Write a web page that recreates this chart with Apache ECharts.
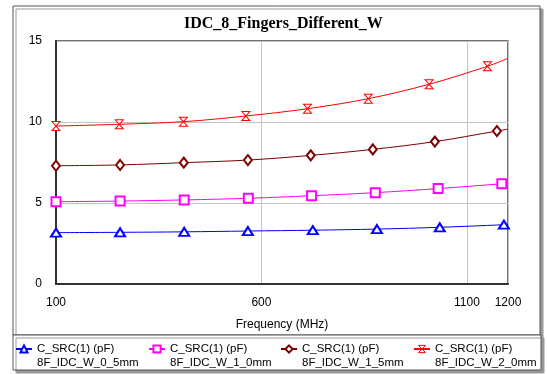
<!DOCTYPE html>
<html>
<head>
<meta charset="utf-8">
<title>IDC_8_Fingers_Different_W</title>
<script src="https://cdn.jsdelivr.net/npm/echarts@6/dist/echarts.min.js"></script>
<style>
	html, body { margin: 0; padding: 0; background: #fff; }
	#chart { width: 547px; height: 374px; }
</style>
</head>
<body>
<div id="chart"></div>
<script>
// values (MHz, pF); last point of each list is the curve end at 1200
const seriesNames = [
	'C_SRC(1) (pF)\n8F_IDC_W_0_5mm',
	'C_SRC(1) (pF)\n8F_IDC_W_1_0mm',
	'C_SRC(1) (pF)\n8F_IDC_W_1_5mm',
	'C_SRC(1) (pF)\n8F_IDC_W_2_0mm'
];
const freqW05 = [ 100, 256, 412, 567, 725, 881, 1034, 1190, 1200 ];
const capW05 = [ 3.17, 3.19, 3.22, 3.27, 3.32, 3.39, 3.50, 3.66, 3.68 ];
const freqW10 = [ 100, 256, 412, 568, 722, 877, 1030, 1185, 1200 ];
const capW10 = [ 5.08, 5.12, 5.19, 5.29, 5.45, 5.64, 5.89, 6.19, 6.23 ];
const freqW15 = [ 100, 256, 411, 567, 720, 871, 1022, 1173, 1200 ];
const capW15 = [ 7.30, 7.35, 7.49, 7.65, 7.94, 8.31, 8.79, 9.44, 9.56 ];
const freqW20 = [ 100, 254, 410, 562, 712, 860, 1008, 1150, 1200 ];
const capW20 = [ 9.75, 9.86, 10.02, 10.37, 10.82, 11.44, 12.33, 13.44, 13.93 ];

const xMin = 100;
const xMax = 1200;
const xStep = 500;
const yMin = 0;
const yMax = 15;
const yStep = 5;

const FONT = 'Liberation Sans, Arial, sans-serif';
const hourglass = 'path://M0,0 L10,0 L0,10 L10,10 Z';

/**
 * One curve with hollow markers; the end point only shapes the line.
 *
 * @param {number} idx
 * @param {number[]} freqs
 * @param {number[]} values
 * @param {string} color
 * @param {string} symbol
 * @param {number|number[]} size
 * @param {boolean} [pathFill] paint path symbols white
 * @return {Object}
 */
const curve = ( idx, freqs, values, color, symbol, size, pathFill ) => ( {
	name: seriesNames[ idx ],
	type: 'line',
	smooth: 0.35,
	showAllSymbol: true,
	symbol,
	symbolSize: size,
	clip: true,
	lineStyle: { color, width: 1 },
	itemStyle: pathFill ?
		{ color: '#fff', borderColor: color, borderWidth: 1 } :
		{ color, borderWidth: 1 },
	emphasis: { disabled: true },
	data: freqs.map( ( f, i ) => ( i === freqs.length - 1 ?
		{ value: [ f, values[ i ] ], symbol: 'none' } :
		[ f, values[ i ] ] ) )
} );

const legendAt = ( idx, left, itemStyle ) => {
	const legend = {
		data: [ seriesNames[ idx ] ],
		left,
		top: 328,
		padding: 0,
		itemWidth: 16,
		itemHeight: 9,
		selectedMode: false,
		formatter: ( name ) => '\n' + name,
		textStyle: { fontFamily: FONT, fontSize: 11.5, color: '#000', lineHeight: 14 }
	};
	if ( itemStyle ) {
		legend.itemStyle = itemStyle;
	}
	return legend;
};

const chart = echarts.init( document.getElementById( 'chart' ), null, { renderer: 'canvas' } );

chart.setOption( {
	animation: false,
	backgroundColor: '#fff',
	title: {
		text: 'IDC_8_Fingers_Different_W',
		left: 184,
		top: 16,
		padding: 0,
		textStyle: {
			fontFamily: 'Liberation Serif, Times New Roman, serif',
			fontWeight: 'bold',
			fontSize: 16,
			color: '#000'
		}
	},
	graphic: [
		{
			type: 'rect',
			z: -10,
			shape: { x: 13, y: 6, width: 527, height: 329 },
			style: { fill: '#fff', stroke: '#555', lineWidth: 1, shadowColor: '#999', shadowOffsetX: 3, shadowOffsetY: 3 }
		},
		{
			type: 'rect',
			z: -10,
			shape: { x: 13, y: 335, width: 528, height: 35 },
			style: { fill: '#fff', stroke: '#555', lineWidth: 1, shadowColor: '#999', shadowOffsetX: 3, shadowOffsetY: 3 }
		}
	],
	legend: [
		legendAt( 0, 15 ),
		legendAt( 1, 148 ),
		legendAt( 2, 280 ),
		legendAt( 3, 413, { color: '#fff', borderColor: '#ff0000', borderWidth: 1 } )
	],
	grid: {
		left: 56,
		right: 39,
		top: 41,
		bottom: 90,
		show: true,
		borderColor: '#444',
		borderWidth: 1.5,
		containLabel: false
	},
	xAxis: {
		type: 'value',
		min: xMin,
		max: xMax,
		interval: xStep,
		name: 'Frequency (MHz)',
		nameLocation: 'middle',
		nameGap: 35,
		nameTextStyle: { fontFamily: FONT, fontSize: 12, color: '#000' },
		axisLine: { show: true, lineStyle: { color: '#333', width: 2 } },
		axisTick: { show: false },
		axisLabel: {
			fontFamily: FONT,
			fontSize: 12,
			color: '#000',
			margin: 13,
			formatter: ( v ) => String( v )
		},
		splitLine: { show: true, lineStyle: { color: '#c4c4c4', width: 1 } }
	},
	yAxis: {
		type: 'value',
		min: yMin,
		max: yMax,
		interval: yStep,
		axisLine: { show: true, lineStyle: { color: '#333', width: 2 } },
		axisTick: { show: false },
		axisLabel: { fontFamily: FONT, fontSize: 12, color: '#000', margin: 14 },
		splitLine: { show: true, lineStyle: { color: '#c4c4c4', width: 1 } }
	},
	series: [
		curve( 0, freqW05, capW05, '#0000ff', 'emptyTriangle', [ 10, 8 ] ),
		curve( 1, freqW10, capW10, '#ff00ff', 'emptyRect', 9 ),
		curve( 2, freqW15, capW15, '#800000', 'emptyDiamond', [ 8, 10 ] ),
		curve( 3, freqW20, capW20, '#ff0000', hourglass, [ 8, 9 ], true )
	]
} );
</script>
</body>
</html>
